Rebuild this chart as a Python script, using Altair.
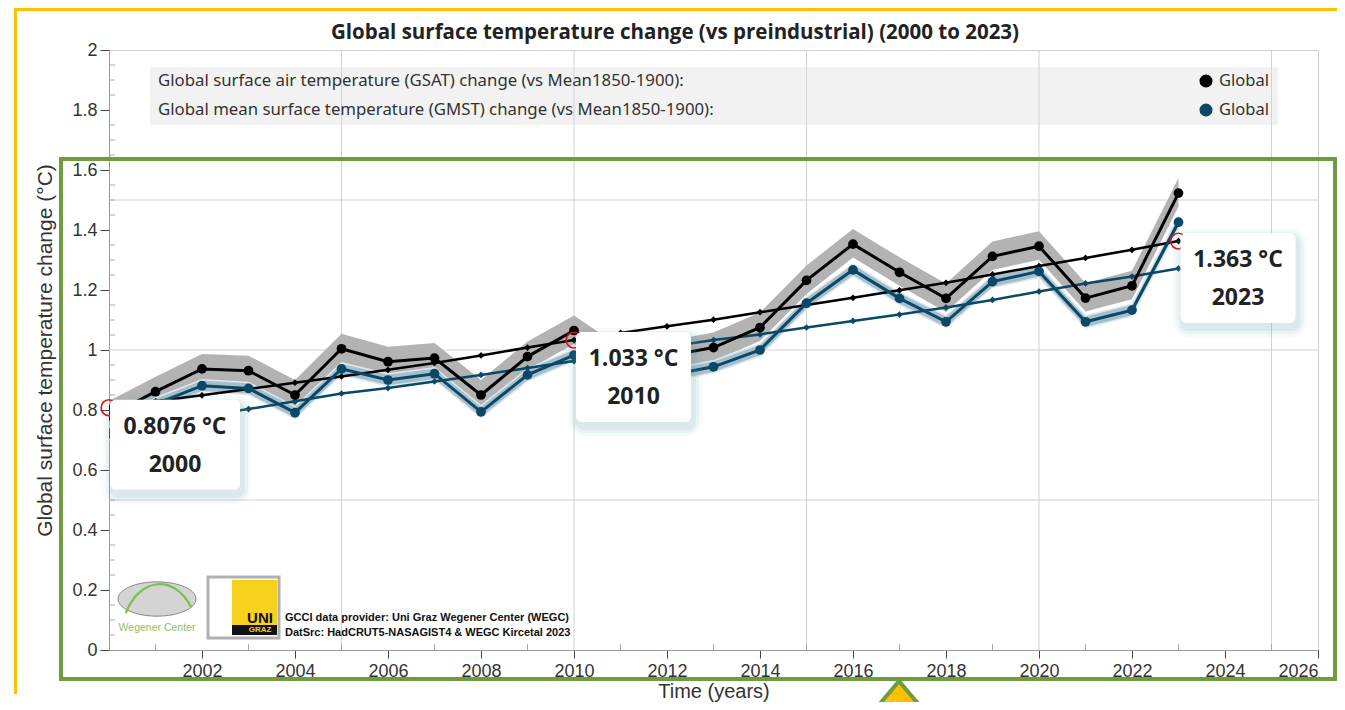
import altair as alt
import pandas as pd

# ---------------- data ----------------
years = list(range(2000, 2024))
gsat_annual = [0.780, 0.861, 0.937, 0.931, 0.850, 1.004, 0.961, 0.973, 0.850, 0.978,
               1.065, 0.960, 0.980, 1.008, 1.075, 1.232, 1.353, 1.259, 1.172, 1.312,
               1.346, 1.173, 1.214, 1.523]
gmst_annual = [0.720, 0.820, 0.881, 0.872, 0.791, 0.937, 0.900, 0.921, 0.794, 0.917,
               0.983, 0.900, 0.915, 0.944, 1.000, 1.156, 1.267, 1.172, 1.094, 1.228,
               1.262, 1.094, 1.133, 1.426]
gsat_trend = [0.8076, 0.829, 0.849, 0.870, 0.891, 0.912, 0.934, 0.957, 0.982, 1.008,
              1.033, 1.057, 1.079, 1.101, 1.126, 1.150, 1.174, 1.199, 1.224, 1.252,
              1.280, 1.307, 1.334, 1.363]
gmst_trend = [0.730, 0.755, 0.779, 0.803, 0.829, 0.855, 0.873, 0.895, 0.917, 0.940,
              0.963, 0.987, 1.010, 1.033, 1.052, 1.075, 1.097, 1.118, 1.142, 1.167,
              1.195, 1.222, 1.245, 1.272]
gsat_unc_hi = 0.05
gsat_unc_lo = 0.045
gmst_unc = 0.02

highlight_years = [2000, 2010, 2023]

x_tick_values = [2002, 2004, 2006, 2008, 2010, 2012, 2014, 2016, 2018, 2020, 2022, 2024, 2026]
y_tick_values = [0, 0.2, 0.4, 0.6, 0.8, 1.0, 1.2, 1.4, 1.6, 1.8, 2.0]
x_grid_values = [2005, 2010, 2015, 2020, 2025]
y_grid_values = [0.5, 1.0, 1.5]
x_minor_values = [y for y in range(2001, 2026, 2)]
y_minor_values = [round(0.05 * k, 2) for k in range(1, 40) if k % 4 != 0]

title_text = "Global surface temperature change (vs preindustrial) (2000 to 2023)"
legend_labels = ["Global surface air temperature (GSAT) change (vs Mean1850-1900):",
                 "Global mean surface temperature (GMST) change (vs Mean1850-1900):"]
legend_names = ["Global", "Global"]
series_colors = ["#000000", "#0a4866"]
band_colors = ["#b3b3b3", "#a5bfcd"]
credit_lines = ["GCCI data provider: Uni Graz Wegener Center (WEGC)",
                "DatSrc: HadCRUT5-NASAGIST4 & WEGC Kircetal 2023"]
logo_texts = ["Wegener Center", "UNI", "GRAZ"]

# ---------------- tables ----------------
df_gsat = pd.DataFrame({"year": years, "value": gsat_annual})
df_gsat["lo"] = df_gsat["value"] - gsat_unc_lo
df_gsat["hi"] = df_gsat["value"] + gsat_unc_hi
df_gmst = pd.DataFrame({"year": years, "value": gmst_annual})
df_gmst["lo"] = df_gmst["value"] - gmst_unc
df_gmst["hi"] = df_gmst["value"] + gmst_unc
df_gsat_tr = pd.DataFrame({"year": years, "value": gsat_trend})
df_gmst_tr = pd.DataFrame({"year": years, "value": gmst_trend})
df_hl = df_gsat_tr[df_gsat_tr["year"].isin(highlight_years)].reset_index(drop=True)

FONT_AX = "Liberation Sans"
FONT_UI = "Noto Sans"
xs = alt.Scale(domain=[2000, 2026], nice=False, zero=False)
ys = alt.Scale(domain=[0, 2], nice=False, zero=True)
x_axis = alt.Axis(values=x_tick_values, format="d", grid=False, tickSize=8,
                  tickColor="#444", domainColor="#999", labelFont=FONT_AX,
                  labelFontSize=18, labelColor="#333", labelPadding=4,
                  labelOverlap=False, titleFont=FONT_AX, titleFontSize=20,
                  titleFontWeight="normal", titleColor="#333", titlePadding=1)
y_axis = alt.Axis(values=y_tick_values, labelExpr="format(datum.value, '~g')",
                  grid=False, tickSize=9, tickColor="#444", domainColor="#999",
                  labelFont=FONT_AX, labelFontSize=18, labelColor="#333",
                  labelPadding=3, titleFont=FONT_AX, titleFontSize=21,
                  titleFontWeight="normal", titleColor="#333", titlePadding=16)
X_TITLE = "Time (years)"
Y_TITLE = "Global surface temperature change (°C)"


def X(field="year"):
    return alt.X(f"{field}:Q", scale=xs, axis=x_axis, title=X_TITLE)


def Y(field="value"):
    return alt.Y(f"{field}:Q", scale=ys, axis=y_axis, title=Y_TITLE)


one = pd.DataFrame({"k": [0]})
layers = []

# legend background
layers.append(alt.Chart(one).mark_rect(fill="#f2f2f2").encode(
    x=alt.value(41), x2=alt.value(1169), y=alt.value(17), y2=alt.value(75)))

# grid lines
layers.append(alt.Chart(pd.DataFrame({"year": x_grid_values})).mark_rule(
    color="#d2d2d2", strokeWidth=1).encode(x=X(), y=alt.value(0), y2=alt.value(600)))
layers.append(alt.Chart(pd.DataFrame({"value": y_grid_values})).mark_rule(
    color="#d2d2d2", strokeWidth=1).encode(y=Y(), x=alt.value(0), x2=alt.value(1209)))

# minor ticks (inward)
layers.append(alt.Chart(pd.DataFrame({"year": x_minor_values})).mark_rule(
    color="#aaa", strokeWidth=1).encode(x=X(), y=alt.value(600), y2=alt.value(594)))
layers.append(alt.Chart(pd.DataFrame({"value": y_minor_values})).mark_rule(
    color="#aaa", strokeWidth=1).encode(y=Y(), x=alt.value(0), x2=alt.value(6)))

# uncertainty bands
layers.append(alt.Chart(df_gsat).mark_area(color=band_colors[0], opacity=1, clip=True).encode(
    x=X(), y=Y("lo"), y2="hi:Q"))
layers.append(alt.Chart(df_gmst).mark_area(color=band_colors[1], opacity=1, clip=True,
                                           stroke="#dfe8ee", strokeWidth=1.5).encode(
    x=X(), y=Y("lo"), y2="hi:Q"))

# trend lines with diamonds
for d, c in [(df_gsat_tr, series_colors[0]), (df_gmst_tr, series_colors[1])]:
    layers.append(alt.Chart(d).mark_line(color=c, strokeWidth=2.5, clip=True).encode(
        x=X(), y=Y()))
    layers.append(alt.Chart(d).mark_point(shape="diamond", filled=True, color=c, clip=True,
                                          size=45, opacity=1).encode(x=X(), y=Y()))

# annual lines with dots
for d, c in [(df_gsat, series_colors[0]), (df_gmst, series_colors[1])]:
    layers.append(alt.Chart(d).mark_line(color=c, strokeWidth=3, clip=True).encode(
        x=X(), y=Y()))
    layers.append(alt.Chart(d).mark_circle(color=c, size=95, opacity=1, clip=True).encode(
        x=X(), y=Y()))

# hover highlight circles
layers.append(alt.Chart(df_hl).mark_point(shape="circle", size=250, filled=False,
                                          color="#e01010", strokeWidth=1.6,
                                          opacity=1).encode(x=X(), y=Y()))

# tooltip boxes
box_specs = [("datum.year == 2000", 1, 131, 66), ("datum.year != 2000", 2, 117, 59.5)]
for cond, xo, x2o, cx in box_specs:
    base = alt.Chart(df_hl).transform_filter(cond)
    for e, op in [(9, 0.05), (6, 0.08), (3, 0.11)]:
        layers.append(base.mark_rect(fill="#5ea3a8", opacity=op, cornerRadius=6 + e,
                                     xOffset=xo + 2 - e, x2Offset=x2o + 2 + e,
                                     yOffset=-8 + 5 - e, y2Offset=82 + 5 + e).encode(
            x=X(), x2="year:Q", y=Y(), y2="value:Q"))
    layers.append(base.mark_rect(fill="white", cornerRadius=6, xOffset=xo, x2Offset=x2o,
                                 yOffset=-8, y2Offset=82).encode(
        x=X(), x2="year:Q", y=Y(), y2="value:Q"))
    layers.append(base.transform_calculate(
        lab="format(datum.value, '.4r') + ' °C'").mark_text(
        font="Open Sans", fontWeight="bold", fontSize=23, color="#222",
        dx=cx, dy=19, baseline="middle", align="center").encode(
        x=X(), y=Y(), text="lab:N"))
    layers.append(base.transform_calculate(lab2="toString(datum.year)").mark_text(
        font="Open Sans", fontWeight="bold", fontSize=23, color="#222",
        dx=cx, dy=57, baseline="middle", align="center").encode(
        x=X(), y=Y(), text="lab2:N"))

# legend contents
for i, (lab, name, col) in enumerate(zip(legend_labels, legend_names, series_colors)):
    yy = 31 + 29 * i
    layers.append(alt.Chart(pd.DataFrame({"t": [lab]})).mark_text(
        align="left", baseline="middle", font=FONT_UI, fontSize=16.8,
        color="#333").encode(text="t:N", x=alt.value(49), y=alt.value(yy)))
    layers.append(alt.Chart(one).mark_circle(color=col, size=170, opacity=1).encode(
        x=alt.value(1097), y=alt.value(yy)))
    layers.append(alt.Chart(pd.DataFrame({"t": [name]})).mark_text(
        align="left", baseline="middle", font=FONT_UI, fontSize=16.5,
        color="#333").encode(text="t:N", x=alt.value(1110), y=alt.value(yy)))

# logos
ellipse = "M-1,0 A1,0.44 0 1,0 1,0 A1,0.44 0 1,0 -1,0 Z"
arc = "M-0.8,0.36 C-0.45,-0.55 0.45,-0.65 0.88,0.22"
layers.append(alt.Chart(one).mark_point(shape=ellipse, size=6084, filled=True,
                                        fill="#d4d4d4", stroke="#8a8a8a", strokeWidth=1,
                                        opacity=1).encode(x=alt.value(48), y=alt.value(549)))
layers.append(alt.Chart(one).mark_point(shape=arc, size=6084, filled=False,
                                        stroke="#7cc04c", strokeWidth=2.2,
                                        opacity=1).encode(x=alt.value(48), y=alt.value(549)))
layers.append(alt.Chart(pd.DataFrame({"t": [logo_texts[0]]})).mark_text(
    font="Liberation Sans", fontSize=10.5, color="#8cc063", align="center",
    baseline="middle").encode(text="t:N", x=alt.value(48), y=alt.value(578)))
layers.append(alt.Chart(one).mark_rect(fill="white", stroke="#b0b0b0", strokeWidth=3).encode(
    x=alt.value(99), x2=alt.value(170), y=alt.value(527), y2=alt.value(588)))
layers.append(alt.Chart(one).mark_rect(fill="#f7d21c").encode(
    x=alt.value(123), x2=alt.value(168), y=alt.value(530), y2=alt.value(576)))
layers.append(alt.Chart(one).mark_rect(fill="#111").encode(
    x=alt.value(123), x2=alt.value(168), y=alt.value(575), y2=alt.value(585)))
layers.append(alt.Chart(pd.DataFrame({"t": [logo_texts[1]]})).mark_text(
    font="Liberation Sans", fontWeight="bold", fontSize=15, color="#111", align="center",
    baseline="middle").encode(text="t:N", x=alt.value(151), y=alt.value(568)))
layers.append(alt.Chart(pd.DataFrame({"t": [logo_texts[2]]})).mark_text(
    font="Liberation Sans", fontWeight="bold", fontSize=8, color="#f7d21c", align="center",
    baseline="middle").encode(text="t:N", x=alt.value(151), y=alt.value(580)))
for i, line in enumerate(credit_lines):
    layers.append(alt.Chart(pd.DataFrame({"t": [line]})).mark_text(
        font="Liberation Sans", fontWeight="bold", fontSize=11, color="#111",
        align="left", baseline="middle").encode(
        text="t:N", x=alt.value(176), y=alt.value(568 + 15 * i)))

# title
layers.append(alt.Chart(pd.DataFrame({"t": [title_text]})).mark_text(
    font="Open Sans", fontWeight="bold", fontSize=20.5, color="#222", align="center",
    baseline="middle").encode(text="t:N", x=alt.value(566), y=alt.value(-17)))

# screenshot frames
layers.append(alt.Chart(one).mark_rect(fill=None, stroke="#6e9c3e", strokeWidth=4).encode(
    x=alt.value(-48), x2=alt.value(1226), y=alt.value(109), y2=alt.value(629)))
layers.append(alt.Chart(one).mark_rule(color="#ffc000", strokeWidth=3).encode(
    x=alt.value(-93.5), y=alt.value(-42), y2=alt.value(644)))
layers.append(alt.Chart(one).mark_rule(color="#ffc000", strokeWidth=3).encode(
    x=alt.value(-95), x2=alt.value(1228), y=alt.value(-40.5)))
chev = "M-0.85,1 L-0.85,0.15 L0,-0.85 L0.85,0.15 L0.85,1 Z"
layers.append(alt.Chart(one).mark_point(shape=chev, size=3136, filled=True, fill="#ffc000",
                                        stroke="#6e9c3e", strokeWidth=4, opacity=1).encode(
    x=alt.value(790), y=alt.value(655)))

chart = alt.layer(*layers).properties(
    width=1209, height=600,
    padding={"left": 101, "top": 42, "right": 19, "bottom": 52},
    autosize=alt.AutoSizeParams(type="none"),
    background="white",
).configure_view(stroke="#d0d0d0")

chart.save("out.html", embed_options={"renderer": "svg", "actions": False})
